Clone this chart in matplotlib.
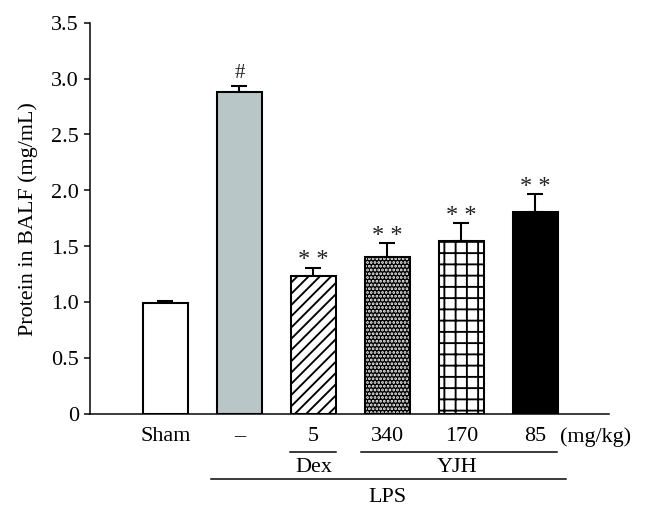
import matplotlib
matplotlib.use("Agg")
import matplotlib.pyplot as plt

categories = ["Sham", "\u2013", "5", "340", "170", "85"]
values = [0.99, 2.88, 1.23, 1.40, 1.55, 1.81]
errors = [0.02, 0.05, 0.08, 0.13, 0.16, 0.16]
marks = ["", "#", "* *", "* *", "* *", "* *"]
yticks = [0, 0.5, 1.0, 1.5, 2.0, 2.5, 3.0, 3.5]
ytick_labels = ["0", "0.5", "1.0", "1.5", "2.0", "2.5", "3.0", "3.5"]

DPI = 135
FS = 11.8
plt.rcParams['font.family'] = ['Liberation Serif', 'DejaVu Serif']
plt.rcParams['hatch.linewidth'] = 1.0

fig = plt.figure(figsize=(671.3 / DPI, 515.3 / DPI), dpi=DPI)
ax = fig.add_axes([90 / 671, 101 / 515, (609 - 90) / 671, (414 - 23) / 515])

x = list(range(len(categories)))
w = 0.61
lw = 1.1
faces = ["white", "#b8c6c8", "white", "black", "white", "black"]
hatches = [None, None, "////", None, "++", None]

for i in x:
    if i == 3:
        ax.bar(i, values[i], width=w, color="black", edgecolor="white",
               hatch="......", linewidth=0, zorder=2)
        ax.bar(i, values[i], width=w, fill=False, edgecolor="black",
               linewidth=lw, zorder=3)
    else:
        ax.bar(i, values[i], width=w, color=faces[i], edgecolor="black",
               hatch=hatches[i], linewidth=lw, zorder=2)
    ax.errorbar(i, values[i], yerr=[[0], [errors[i]]], fmt="none",
                ecolor="black", elinewidth=1.1, capsize=4.5, capthick=1.1,
                zorder=1)
    if marks[i]:
        off = 0.12 if marks[i] == "#" else 0.07
        ax.text(i, values[i] + errors[i] + off, marks[i], ha="center",
                va="center", fontsize=11 if marks[i] == "#" else 13,
                color="#222222")

ax.set_xlim(-1.02, 6.0)
ax.set_ylim(0, 3.5)
ax.set_yticks(yticks)
ax.set_yticklabels(ytick_labels, fontsize=FS)
ax.set_ylabel("Protein in BALF (mg/mL)", fontsize=FS, labelpad=7)
ax.set_xticks(x)
ax.set_xticklabels(categories, fontsize=FS)
ax.tick_params(axis="x", length=0, pad=7)
ax.tick_params(axis="y", direction="out", length=3, width=0.8, pad=3)
for s in ["top", "right"]:
    ax.spines[s].set_visible(False)
for s in ["left", "bottom"]:
    ax.spines[s].set_linewidth(0.8)

kw = dict(color="black", linewidth=0.8, clip_on=False)
ax.plot([2 - 0.31, 2 + 0.31], [-0.34, -0.34], **kw)
ax.plot([2.65, 5.3], [-0.34, -0.34], **kw)
ax.plot([0.615, 5.42], [-0.58, -0.58], **kw)
tk = dict(ha="center", va="center", fontsize=FS, clip_on=False)
ax.text(5.82, -0.206, "(mg/kg)", **tk)
ax.text(2, -0.475, "Dex", **tk)
ax.text(3.94, -0.475, "YJH", **tk)
ax.text(3.0, -0.743, "LPS", **tk)

fig.savefig("out.png", dpi=DPI)
